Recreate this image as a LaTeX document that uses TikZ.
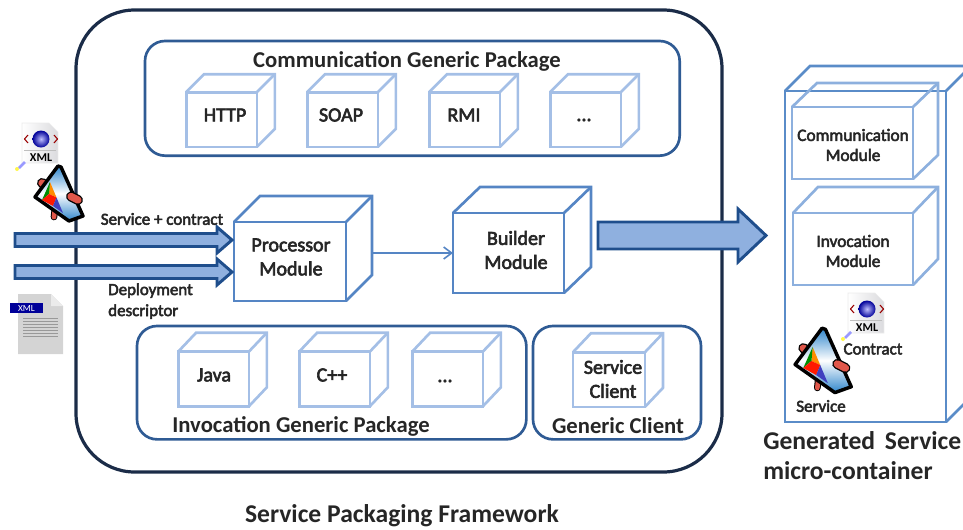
\documentclass[tikz,border=0pt]{standalone}
\usepackage{fontspec}
\setmainfont{Carlito}
\newfontfamily\mediumfont[FakeBold=3]{Carlito}
\usetikzlibrary{calc,arrows.meta}
\definecolor{frameink}{HTML}{1B2C48}
\definecolor{packageblue}{HTML}{2F5B94}
\definecolor{cubelight}{HTML}{A4BFE6}
\definecolor{moduleblue}{HTML}{8DB0DE}
\definecolor{containerblue}{HTML}{5A8CC8}
\definecolor{coreblue}{HTML}{5585C4}
\definecolor{arrowfill}{HTML}{8FB0DF}
\definecolor{arrowedge}{HTML}{1F4E8C}
\definecolor{rodred}{HTML}{E0574A}
\definecolor{iconblue}{HTML}{2F86CC}
\tikzset{
    packagebox/.style={rectangle, draw=packageblue, line width=2pt, rounded corners=15pt, anchor=north west, inner sep=0pt, outer sep=0pt},
    cubebox/.style={rectangle, draw=cubelight, line width=2pt, fill=white, inner sep=0pt, outer sep=0pt},
    corebox/.style={cubebox, draw=coreblue},
    modulebox/.style={cubebox, draw=moduleblue, fill=none},
    cubeline/.style={draw=cubelight, line width=2pt},
    coreline/.style={draw=coreblue, line width=2pt},
    moduleline/.style={draw=moduleblue, line width=2pt},
    containerline/.style={draw=containerblue, line width=2pt},
    cubetext/.style={font=\fontsize{15}{18}\selectfont\mediumfont, text=black!85, inner sep=0pt, align=center},
    moduletext/.style={font=\fontsize{13}{15}\selectfont\mediumfont, text=black!85, inner sep=0pt, align=center},
    titletext/.style={font=\fontsize{17}{23}\selectfont\bfseries, text=black!85, inner sep=0pt},
    largetitle/.style={font=\fontsize{19.2}{23}\selectfont\bfseries, text=black!85, inner sep=0pt, align=left},
    smalltext/.style={font=\fontsize{12.7}{15.75}\selectfont\mediumfont, text=black!85, inner sep=0pt, align=left},
    blockarrow/.style={draw=arrowedge, line width=2.2pt, fill=arrowfill, line join=miter},
    xmldoc/.pic={
        \shade[left color=white, right color=blue!8!black!14, draw=black!8] (0,0) -- (27,0) -- (36,9) -- (36,40) -- (0,40) -- cycle;
        \shade[inner color=blue!25, outer color=blue!60!black] (19,16) circle (8.5);
        \draw[red!60!black, line width=0.8pt] (6,12) -- (2.5,16) -- (6,20) (32,12) -- (35.5,16) -- (32,20);
        \draw[black!25, line width=0.6pt] (2,27) -- (34,27);
        \node[font=\fontsize{9}{9}\selectfont\bfseries, inner sep=0pt] (-label) at (19,35) {XML};
        \fill[yellow!70!white] (-5,46) circle (2);
        \draw[blue!40, line width=2pt] (-3,45) -- (3,39);
    },
    servicedoc/.pic={
        \fill[black!17] (0,0) -- (33,0) -- (45,12) -- (45,60) -- (0,60) -- cycle;
        \fill[black!8] (33,0) -- (45,12) -- (33,12) -- cycle;
        \foreach \row in {24,27,...,42} {
            \draw[black!40, line width=0.3pt] (5,\row) -- (40,\row);
        }
        \node[fill=blue!60!black, text=white, font=\fontsize{7}{7}\selectfont, minimum width=24.75pt, minimum height=7.5pt, inner sep=0pt] (-banner) at (8.5,14) {XML};
    },
    serviceicon/.pic={
        \draw[draw=black, line width=5pt, line cap=round] (-3,14) -- (-4,23);
        \draw[rodred, line width=3.5pt, line cap=round] (-3,14) -- (-4,23);
        \draw[draw=black, line width=7.5pt, line cap=round] (-16,-11) -- (-8,-6);
        \draw[rodred, line width=5.5pt, line cap=round] (-16,-11) -- (-8,-6);
        \draw[black, line width=2.6pt, line join=round, left color=iconblue, right color=iconblue, middle color=white, shading angle=0]
            (0,-28) -- (3,-27) -- (25,22) -- (11,27) -- (-23,3) -- cycle;
        \fill[orange!90!yellow] (-8,-12) -- (-1.5,3.5) -- (-9,0) -- cycle;
        \fill[green!55!black] (-9,0) -- (-16,6) -- (-8,-12) -- cycle;
        \fill[red!80!orange] (-9,0) -- (-1.5,3.5) -- (-5,12) -- (-16,6) -- cycle;
        \fill[blue!50!gray] (-1.5,3.5) -- (5,19) -- (-5,12) -- cycle;
        \draw[draw=black, line width=7.5pt, line cap=round] (13,2.5) -- (20,6);
        \draw[rodred, line width=5.5pt, line cap=round] (13,2.5) -- (20,6);
    }
}
% faces behind the front rectangle of a cube
\newcommand{\cubeside}[4][cubeline]{
    \draw[#1] (#2.north west) -- ++(#3,-#4) -- ($(#2.north east)+(#3,-#4)$) -- ($(#2.south east)+(#3,-#4)$) -- (#2.south east);
    \draw[#1] (#2.north east) -- ++(#3,-#4);
    \coordinate (#2side) at ($(#2.east)+(#3,-#4/2)$);
}
% flat arrow with a wide head
\newcommand{\blockline}[5]{
    \draw[blockarrow] ($(#1)+(0,-#3)$) -- ($(#2)+(-#5,-#3)$) -- ($(#2)+(-#5,-#4)$) -- (#2) -- ($(#2)+(-#5,#4)$) -- ($(#2)+(-#5,#3)$) -- ($(#1)+(0,#3)$) -- cycle;
}
\begin{document}
\begin{tikzpicture}[x=0.75pt, y=-0.75pt]
    \useasboundingbox (0,0) rectangle (963,529);
    \clip (0,0) rectangle (963,529);

    % Framework
    \node[rectangle, draw=frameink, line width=2.4pt, rounded corners=44pt, anchor=north west, inner sep=0pt, outer sep=0pt, minimum width=484.5pt, minimum height=346.5pt] (framework) at (76,10) {};
    \node[largetitle] (frameworktitle) at (402,516) {Service Packaging Framework};

    % Communication package
    \node[packagebox, minimum width=401pt, minimum height=86pt] (commpackage) at (145,41) {};
    \node[titletext] (commtitle) at (407,61) {Communication Generic Package};
    \node[cubebox, minimum width=53pt, minimum height=41pt] (http) at (221.5,119.5) {};
    \cubeside{http}{18}{18}
    \node[cubetext] (httplabel) at (225,115) {HTTP};
    \node[cubebox, minimum width=53pt, minimum height=41pt] (soap) at (342.5,119.5) {};
    \cubeside{soap}{18}{18}
    \node[cubetext] (soaplabel) at (341,115) {SOAP};
    \node[cubebox, minimum width=53pt, minimum height=41pt] (rmi) at (464.5,119.5) {};
    \cubeside{rmi}{18}{18}
    \node[cubetext] (rmilabel) at (464,115) {RMI};
    \node[cubebox, minimum width=53pt, minimum height=41pt] (commmore) at (585.5,119.5) {};
    \cubeside{commmore}{18}{18}
    \node[cubetext] (commmorelabel) at (584,120) {...};

    % Processor and builder
    \node[corebox, minimum width=84pt, minimum height=59.25pt] (processor) at (290,261.5) {};
    \cubeside[coreline]{processor}{26}{26}
    \node[cubetext] (processorlabel) at (291,257) {Processor\\Module};
    \node[corebox, minimum width=83.25pt, minimum height=60pt] (builder) at (508.5,253) {};
    \cubeside[coreline]{builder}{27}{26}
    \node[cubetext] (builderlabel) at (516,250) {Builder\\Module};
    \draw[-{Straight Barb[length=6pt,width=9pt]}, draw=coreblue, line width=1.2pt] (processorside |- builder.west) -- (builder.west);

    % Invocation package
    \node[packagebox, minimum width=292pt, minimum height=85pt] (invpackage) at (137,326) {};
    \node[titletext] (invtitle) at (301,426) {Invocation Generic Package};
    \node[cubebox, minimum width=53pt, minimum height=41pt] (java) at (213.5,379) {};
    \cubeside{java}{18}{19}
    \node[cubetext] (javalabel) at (214,375) {Java};
    \node[cubebox, minimum width=53pt, minimum height=41pt] (cpp) at (334.5,379) {};
    \cubeside{cpp}{18}{19}
    \node[cubetext] (cpplabel) at (332,375) {C++};
    \node[cubebox, minimum width=53pt, minimum height=41pt] (invmore) at (447.5,379) {};
    \cubeside{invmore}{18}{19}
    \node[cubetext] (invmorelabel) at (445,381) {...};

    % Generic client
    \node[packagebox, minimum width=126pt, minimum height=85pt] (clientpackage) at (533,326) {};
    \node[titletext] (clienttitle) at (618,426) {Generic Client};
    \node[cubebox, minimum width=54pt, minimum height=41pt] (client) at (609,379.5) {};
    \cubeside{client}{18}{19}
    \node[cubetext] (clientlabel) at (613,379) {Service\\Client};

    % Inputs
    \pic (contractdoc) at (22,123) {xmldoc};
    \pic (servicein) at (58,194) {serviceicon};
    \pic (descriptordoc) at (18,294) {servicedoc};
    \coordinate (servicestart) at (15,240);
    \coordinate (servicetip) at (232,240);
    \coordinate (descriptorstart) at (15,272);
    \coordinate (descriptortip) at (232,272);
    \blockline{servicestart}{servicetip}{6.5}{13}{15}
    \blockline{descriptorstart}{descriptortip}{6.5}{13}{15}
    \node[smalltext] (servicelabel) at (162,219) {Service + contract};
    \node[smalltext, anchor=north west] (descriptorlabel) at (108,283) {Deployment\\descriptor};

    % Output
    \coordinate (outstart) at (598,235.5);
    \coordinate (outtip) at (766,235.5);
    \blockline{outstart}{outtip}{13.5}{26.5}{28}

    % Generated container
    \node[rectangle, draw=containerblue, line width=2pt, anchor=north west, inner sep=0pt, outer sep=0pt, minimum width=120.75pt, minimum height=248.25pt] (container) at (785,91) {};
    \cubeside[containerline]{container}{25}{25}
    \node[modulebox, minimum width=90.75pt, minimum height=54pt] (commmodule) at (852.5,143) {};
    \cubeside[moduleline]{commmodule}{25}{24}
    \node[moduletext] (commmodulelabel) at (853,145) {Communication\\Module};
    \node[modulebox, minimum width=90pt, minimum height=54pt] (invmodule) at (853,249) {};
    \cubeside[moduleline]{invmodule}{25}{26}
    \node[moduletext] (invmodulelabel) at (853,251) {Invocation\\Module};
    \pic (contractin) at (848,293) {xmldoc};
    \pic[scale=1.17] (serviceout) at (822,361) {serviceicon};
    \node[smalltext] (contractlabel) at (873,349) {Contract};
    \node[smalltext] (servicetag) at (821,406) {Service};
    \node[largetitle, anchor=north west] (containertitle) at (763,431) {Generated\hspace{3pt} Service\\micro-container};
\end{tikzpicture}
\end{document}
